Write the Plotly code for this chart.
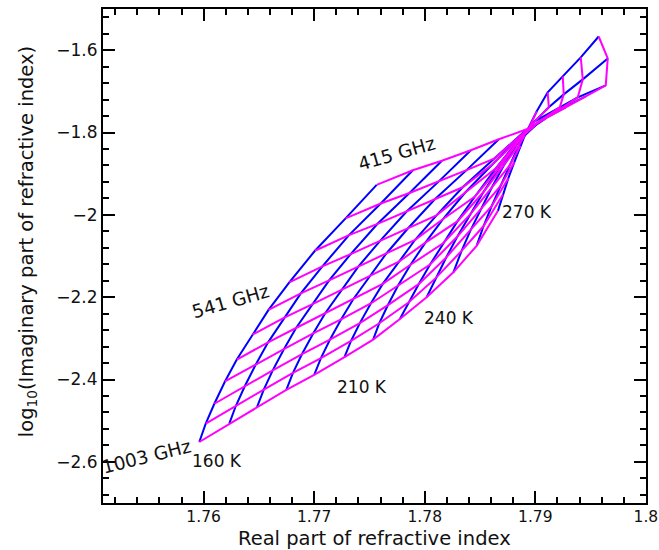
import plotly.graph_objects as go

# ---------------- data ----------------
temperatures_K = [160, 170, 180, 190, 200, 210, 220, 230, 240, 250, 260, 270]
freq_labels_GHz = [1003, 541, 415]          # labelled frequency curves
temp_labels_K = [160, 210, 240, 270]        # labelled temperature curves

# real part (n) and log10(imag part) along each constant-temperature curve,
# ordered from 1003 GHz (first) to 415 GHz (last)
n_T160 = [1.75961, 1.76019, 1.76097, 1.76193, 1.76300, 1.76442, 1.76587, 1.76775, 1.77007, 1.77284, 1.77565]
k_T160 = [-2.5518, -2.5074, -2.4589, -2.4048, -2.3515, -2.2909, -2.2310, -2.1639, -2.0873, -2.0087, -1.9273]
n_T170 = [1.76232, 1.76292, 1.76373, 1.76473, 1.76583, 1.76730, 1.76879, 1.77074, 1.77315, 1.77602, 1.77892]
k_T170 = [-2.5074, -2.4638, -2.4158, -2.3627, -2.3098, -2.2499, -2.1908, -2.1251, -2.0492, -1.9724, -1.8916]
n_T180 = [1.76483, 1.76544, 1.76625, 1.76726, 1.76836, 1.76985, 1.77135, 1.77330, 1.77573, 1.77862, 1.78155]
k_T180 = [-2.4669, -2.4245, -2.3777, -2.3263, -2.2749, -2.2167, -2.1593, -2.0953, -2.0218, -1.9469, -1.8686]
n_T190 = [1.76748, 1.76808, 1.76890, 1.76991, 1.77101, 1.77249, 1.77399, 1.77594, 1.77836, 1.78125, 1.78417]
k_T190 = [-2.4250, -2.3838, -2.3382, -2.2882, -2.2383, -2.1818, -2.1258, -2.0638, -1.9920, -1.9193, -1.8432]
n_T200 = [1.77000, 1.77061, 1.77142, 1.77243, 1.77353, 1.77501, 1.77651, 1.77847, 1.78089, 1.78378, 1.78670]
k_T200 = [-2.3886, -2.3479, -2.3033, -2.2541, -2.2049, -2.1496, -2.0945, -2.0332, -1.9629, -1.8914, -1.8165]
n_T210 = [1.77274, 1.77333, 1.77413, 1.77512, 1.77620, 1.77766, 1.77913, 1.78106, 1.78343, 1.78627, 1.78923]
k_T210 = [-2.3457, -2.3064, -2.2630, -2.2153, -2.1678, -2.1139, -2.0606, -2.0012, -1.9331, -1.8638, -1.7922]
n_T220 = [1.77533, 1.77589, 1.77667, 1.77760, 1.77871, 1.78006, 1.78163, 1.78364, 1.78613, 1.78877, 1.79094]
k_T220 = [-2.3030, -2.2633, -2.2192, -2.1712, -2.1212, -2.0676, -2.0109, -1.9464, -1.8771, -1.8051, -1.7656]
n_T230 = [1.77775, 1.77853, 1.77945, 1.78048, 1.78166, 1.78295, 1.78454, 1.78643, 1.78853, 1.79049, 1.79275]
k_T230 = [-2.2529, -2.2128, -2.1685, -2.1207, -2.0691, -2.0160, -1.9554, -1.8870, -1.8162, -1.7704, -1.7389]
n_T240 = [1.78017, 1.78101, 1.78194, 1.78295, 1.78409, 1.78531, 1.78674, 1.78840, 1.79040, 1.79221, 1.79456]
k_T240 = [-2.2002, -2.1532, -2.1035, -2.0528, -1.9995, -1.9445, -1.8853, -1.8238, -1.7728, -1.7438, -1.7122]
n_T250 = [1.78259, 1.78333, 1.78418, 1.78512, 1.78611, 1.78717, 1.78837, 1.78995, 1.79221, 1.79384, 1.79637]
k_T250 = [-2.1396, -2.0875, -2.0354, -1.9833, -1.9312, -1.8790, -1.8269, -1.7728, -1.7389, -1.7147, -1.6856]
n_T260 = [1.78469, 1.78532, 1.78605, 1.78682, 1.78768, 1.78850, 1.78950, 1.79122, 1.79257, 1.79429, 1.79655]
k_T260 = [-2.0752, -2.0272, -1.9789, -1.9309, -1.8800, -1.8318, -1.7850, -1.7389, -1.7074, -1.6710, -1.6201]
n_T270 = [1.78662, 1.78707, 1.78756, 1.78811, 1.78866, 1.78905, 1.79013, 1.79112, 1.79248, 1.79411, 1.79573]
k_T270 = [-1.9903, -1.9508, -1.9110, -1.8715, -1.8320, -1.8068, -1.7486, -1.7025, -1.6638, -1.6177, -1.5668]

x_tick_vals = [1.76, 1.77, 1.78, 1.79, 1.80]
x_tick_text = ["1.76", "1.77", "1.78", "1.79", "1.8"]
y_tick_vals = [-2.6, -2.4, -2.2, -2.0, -1.8, -1.6]
y_tick_text = ["\u22122.6", "\u22122.4", "\u22122.2", "\u22122", "\u22121.8", "\u22121.6"]

# ---------------- build grid ----------------
n_grid = [n_T160, n_T170, n_T180, n_T190, n_T200, n_T210,
          n_T220, n_T230, n_T240, n_T250, n_T260, n_T270]
k_grid = [k_T160, k_T170, k_T180, k_T190, k_T200, k_T210,
          k_T220, k_T230, k_T240, k_T250, k_T260, k_T270]

BLUE = "#0000FF"
MAGENTA = "#FF00FF"
FONT = "DejaVu Sans"
TXT = "#111111"

# constant-temperature curves (blue)
bx, by = [], []
for nrow, krow in zip(n_grid, k_grid):
    bx += nrow + [None]
    by += krow + [None]

# constant-frequency curves (magenta)
mx, my = [], []
nf = len(n_grid[0])
for j in range(nf):
    mx += [row[j] for row in n_grid] + [None]
    my += [row[j] for row in k_grid] + [None]

fig = go.Figure()
fig.add_trace(go.Scatter(x=bx, y=by, mode="lines", line=dict(color=BLUE, width=2),
                         hoverinfo="skip", showlegend=False))
fig.add_trace(go.Scatter(x=mx, y=my, mode="lines", line=dict(color=MAGENTA, width=2),
                         hoverinfo="skip", showlegend=False))

# ---------------- labels ----------------
freq_font = dict(family=FONT, size=18.5, color=TXT)
temp_font = dict(family=FONT, size=17, color=TXT)
freq_label_pos = [(1.75484, -2.5862, -14), (1.76239, -2.2104, -16), (1.77745, -1.8500, -16)]
for f, (lx, ly, ang) in zip(freq_labels_GHz, freq_label_pos):
    fig.add_annotation(x=lx, y=ly, text=f"{f} GHz", showarrow=False, textangle=ang,
                       font=freq_font, xanchor="center", yanchor="middle")
temp_label_pos = [(1.76118, -2.5983), (1.77428, -2.4184), (1.78220, -2.2497), (1.78929, -1.9922)]
for t, (lx, ly) in zip(temp_labels_K, temp_label_pos):
    fig.add_annotation(x=lx, y=ly, text=f"{t} K", showarrow=False,
                       font=temp_font, xanchor="center", yanchor="middle")

# axis titles
fig.add_annotation(xref="paper", yref="paper", x=0.50, y=-0.0727,
                   text="Real part of refractive index", showarrow=False,
                   font=dict(family=FONT, size=19.5, color=TXT),
                   xanchor="center", yanchor="middle")
fig.add_annotation(xref="paper", yref="paper", x=-0.140, y=0.530,
                   text="log<sub>10</sub>(Imaginary part of refractive index)", showarrow=False,
                   textangle=-90, font=dict(family=FONT, size=19.5, color=TXT),
                   xanchor="center", yanchor="middle")

axis_common = dict(showline=True, linecolor="black", linewidth=2, mirror="ticks",
                   ticks="inside", ticklen=12, tickwidth=2, tickcolor="black",
                   showgrid=False, zeroline=False, automargin=False)

fig.update_xaxes(range=[1.7509, 1.80001], tickmode="array", tickvals=x_tick_vals,
                 ticktext=x_tick_text, tickfont=dict(family=FONT, size=15.5, color=TXT),
                 ticklabelstandoff=-2,
                 minor=dict(tickmode="linear", tick0=1.76, dtick=0.002, ticklen=6,
                            tickwidth=2, tickcolor="black", ticks="inside"),
                 **axis_common)
fig.update_yaxes(range=[-2.7, -1.5], tickmode="array", tickvals=y_tick_vals,
                 ticktext=y_tick_text, tickfont=dict(family=FONT, size=17, color=TXT),
                 minor=dict(tickmode="linear", tick0=-1.6, dtick=0.04, ticklen=6,
                            tickwidth=2, tickcolor="black", ticks="inside"),
                 **axis_common)

fig.update_layout(width=659, height=550, margin=dict(l=103, r=13, t=9, b=47, autoexpand=False),
                  paper_bgcolor="white", plot_bgcolor="white")

fig.write_html("out.html")
